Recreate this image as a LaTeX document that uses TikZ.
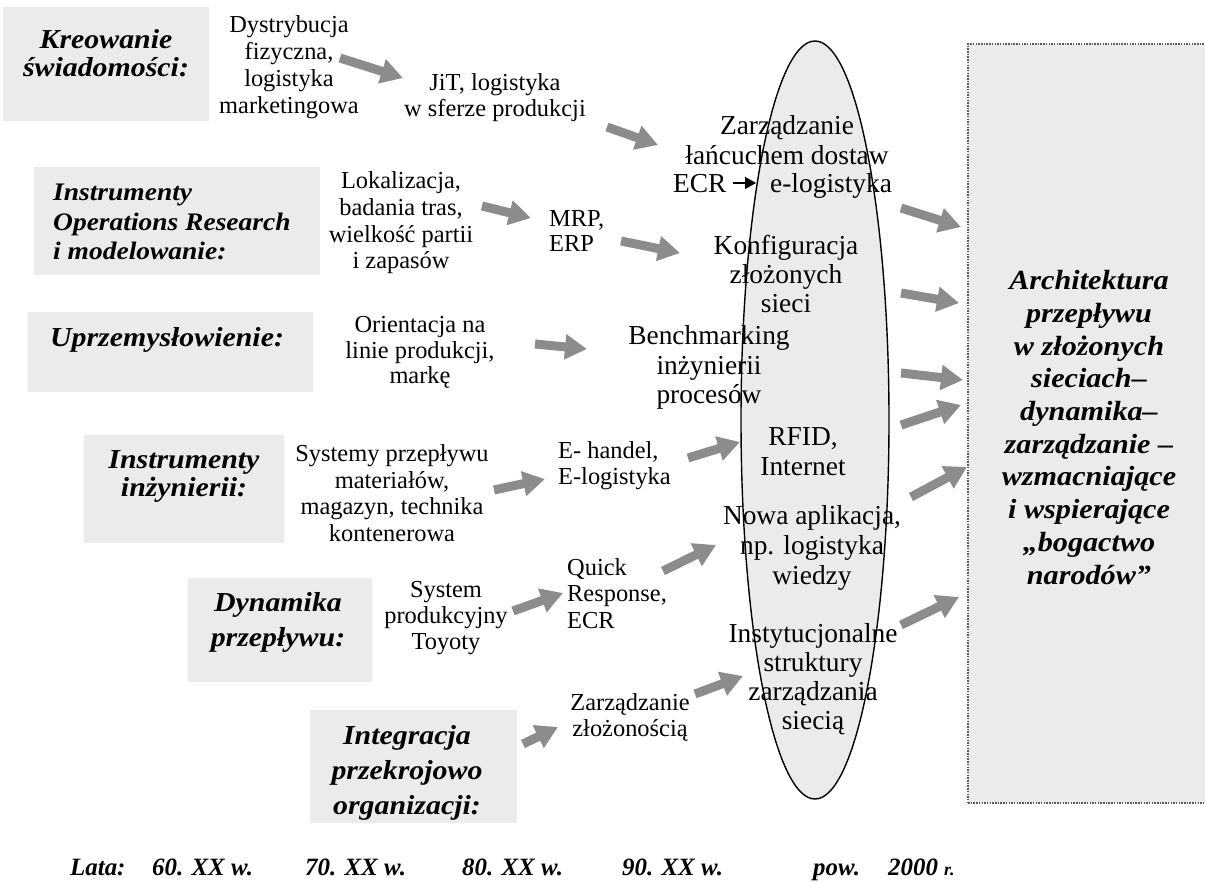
\documentclass[tikz,border=0pt]{standalone}
\usepackage{fontspec}
\setmainfont{Liberation Serif}
\newfontfamily\widefont[FakeStretch=1.09]{Liberation Serif}
\usetikzlibrary{arrows.meta,shapes.geometric}
\definecolor{boxgray}{RGB}{235,235,235}
\definecolor{arrgray}{RGB}{140,140,140}
\tikzset{
  catbox/.style={fill=boxgray, draw=none, inner sep=0pt, rectangle},
  cattext/.style={inner sep=0pt, align=center, font=\widefont\fontsize{27.5}{#1}\selectfont\bfseries\itshape},
  midtext/.style={inner sep=0pt, align=center, font=\fontsize{24.5}{#1}\selectfont},
  elltext/.style={inner sep=0pt, align=center, font=\fontsize{27.5}{#1}\selectfont},
  fatarrow/.style={draw=arrgray, line width=9bp, -{Triangle[length=22bp,width=24bp]}},
  yeartext/.style={anchor=base west, inner sep=0pt, font=\fontsize{25}{30}\selectfont\bfseries\itshape},
}
\begin{document}
\begin{tikzpicture}[x=1bp,y=-1bp]
\useasboundingbox (0,0) rectangle (1205,882);
\clip (0,0) rectangle (1205,882);

% left category boxes
\node[catbox, minimum width=206bp, minimum height=114bp] (b1) at (106,64) {};
\node[catbox, minimum width=286bp, minimum height=108bp] (b2) at (177,221) {};
\node[catbox, minimum width=285bp, minimum height=80bp] (b3) at (170.5,352) {};
\node[catbox, minimum width=200bp, minimum height=108bp] (b4) at (184,489) {};
\node[catbox, minimum width=184bp, minimum height=104bp] (b5) at (280,630) {};
\node[catbox, minimum width=207bp, minimum height=113bp] (b6) at (413.5,766.5) {};

% right box
\node[fill=boxgray, draw=black!65, line width=1.5bp, dash pattern=on 1.5bp off 1.2bp,
      minimum width=242bp, minimum height=759bp, inner sep=0pt] (rb) at (1089,423.5) {};

% ellipse
\node[ellipse, draw=black, fill=boxgray, line width=1.4bp, minimum width=148bp,
      minimum height=758bp, inner sep=0pt] (ell) at (815,420) {};

% category labels
\node[cattext=28] (t1) at (106,53.5) {Kreowanie\\świadomości:};
\node[inner sep=0pt, align=left, anchor=west, font=\widefont\fontsize{25.3}{30}\selectfont\bfseries\itshape]
  (t2) at (53,222) {Instrumenty\\Operations Research\\i modelowanie:};
\node[cattext=30] (t3) at (167,340) {Uprzemysłowienie:};
\node[cattext=28] (t4) at (184,476.5) {Instrumenty\\inżynierii:};
\node[cattext=35] (t5) at (278,622.5) {Dynamika\\przepływu:};
\node[cattext=35] (t6) at (407,773) {Integracja\\przekrojowo\\organizacji:};

% middle texts
\node[midtext=27.3] (dys) at (289,67) {Dystrybucja\\fizyczna,\\logistyka\\marketingowa};
\node[midtext=25.5] (jit) at (495,97.5) {JiT, logistyka\\w sferze produkcji};
\node[midtext=26.7] (lok) at (401,223) {Lokalizacja,\\badania tras,\\wielkość partii\\i zapasów};
\node[midtext=26, align=left, anchor=west] (mrp) at (549,231) {MRP,\\ERP};
\node[midtext=25.5] (ori) at (420,352.5) {Orientacja na\\linie produkcji,\\markę};
\node[midtext=26.7] (sys) at (392,493) {Systemy przepływu\\materiałów,\\magazyn, technika\\kontenerowa};
\node[midtext=25.5, align=left, anchor=west] (eh) at (558,465.5) {E- handel,\\E-logistyka};
\node[midtext=26.2] (spt) at (446,618) {System\\produkcyjny\\Toyoty};
\node[midtext=26.5, align=left, anchor=west] (qr) at (567,593.5) {Quick\\Response,\\ECR};
\node[midtext=25.5] (zz) at (630,717.5) {Zarządzanie\\złożonością};

% ellipse texts
\node[elltext=30] (zlds) at (787,140) {Zarządzanie\\łańcuchem dostaw};
\node[elltext=30, anchor=base west] (ecr) at (673,192) {ECR};
\node[elltext=30, anchor=base west] (elog) at (770,192) {e-logistyka};
\draw[line width=1.5bp, -{Triangle[length=11bp,width=12bp]}, shorten <=6bp, shorten >=14bp]
  ([yshift=9bp]ecr.base east) -- ([yshift=9bp]elog.base west);
\node[elltext=29] (konf) at (786,274) {Konfiguracja\\złożonych\\sieci};
\node[elltext=29.5] (bench) at (709,367.5) {Benchmarking\\inżynierii\\procesów};
\node[elltext=30] (rfid) at (803,452) {RFID,\\Internet};
\node[elltext=30] (nowa) at (812,548) {Nowa aplikacja,\\np. logistyka\\wiedzy};
\node[elltext=29.3] (inst) at (813,679) {Instytucjonalne\\struktury\\zarządzania\\siecią};

% right text
\node[inner sep=0pt, align=center, font=\widefont\fontsize{27.8}{32.8}\selectfont\bfseries\itshape] (arch) at (1089,427.5)
  {Architektura\\przepływu\\w złożonych\\sieciach–\\dynamika–\\zarządzanie –\\wzmacniające\\i wspierające\\„bogactwo\\narodów”};

% timeline
\node[yeartext] (lata) at (70,875) {Lata:};
\node[yeartext] (y60) at (152,875) {60. XX w.};
\node[yeartext] (y70) at (305,875) {70. XX w.};
\node[yeartext] (y80) at (462,875) {80. XX w.};
\node[yeartext] (y90) at (622,875) {90. XX w.};
\node[yeartext] (pow) at (813,875) {pow.};
\node[yeartext] (y2000) at (888,875) {2000 {\fontsize{18}{20}\selectfont r.}};

% arrow coordinates
\coordinate (a1s) at (340,58);  \coordinate (a1e) at (403,78);
\coordinate (a2s) at (607,127); \coordinate (a2e) at (658,145);
\coordinate (a3s) at (482,206); \coordinate (a3e) at (531,218);
\coordinate (a4s) at (621,241); \coordinate (a4e) at (680,253);
\coordinate (a5s) at (535,344); \coordinate (a5e) at (587,349);
\coordinate (a6s) at (494,490); \coordinate (a6e) at (545,479);
\coordinate (a7s) at (688,458); \coordinate (a7e) at (740,442);
\coordinate (a8s) at (513,611); \coordinate (a8e) at (563,593);
\coordinate (a9s) at (663,571); \coordinate (a9e) at (716,545);
\coordinate (a10s) at (695,694); \coordinate (a10e) at (743,676);
\coordinate (a11s) at (523,744); \coordinate (a11e) at (558,727);
\coordinate (a12s) at (901,208); \coordinate (a12e) at (961,227);
\coordinate (a13s) at (901,293); \coordinate (a13e) at (959,303);
\coordinate (a14s) at (901,373); \coordinate (a14e) at (963,380);
\coordinate (a15s) at (901,425); \coordinate (a15e) at (961,405);
\coordinate (a16s) at (911,497); \coordinate (a16e) at (967,467);
\coordinate (a17s) at (901,625); \coordinate (a17e) at (959,597);

\foreach \i in {1,...,17} {
  \draw[fatarrow] (a\i s) -- (a\i e);
}
\end{tikzpicture}
\end{document}
